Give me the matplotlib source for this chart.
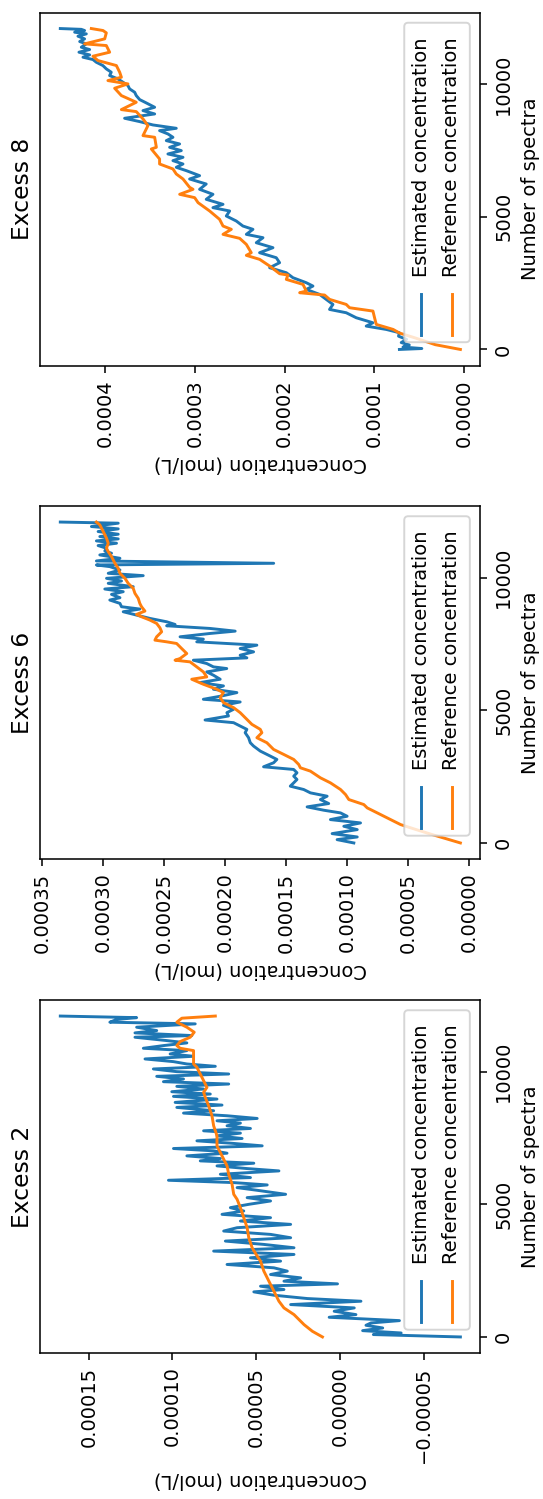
import numpy as np
import matplotlib
matplotlib.use("Agg")
import matplotlib.pyplot as plt
from matplotlib.patches import FancyBboxPatch
from matplotlib.lines import Line2D
from matplotlib.ticker import MultipleLocator

# concentrations below are in units of 1e-5 mol/L, spectra index on the other axis

######## Excess 8 ########
e8_est_s = [0, 35, 90, 170, 260, 380, 500, 630, 755, 881, 1006, 1195, 1384, 1509, 1698, 1887, 2076, 2264,
            2390, 2516, 2705, 2893, 3082, 3271, 3459, 3648, 3837, 4025, 4214, 4340, 4529, 4654, 4843, 5032,
            5221, 5347, 5472, 5661, 5850, 6038, 6238, 6427, 6553, 6742, 6868, 6993, 7119, 7245, 7371, 7497,
            7622, 7748, 7874, 8000, 8126, 8251, 8339, 8465, 8591, 8717, 8880, 9006, 9132, 9295, 9421, 9572,
            9698, 9824, 9950, 10075, 10201, 10327, 10453, 10579, 10704, 10830, 10931, 11019, 11107, 11208,
            11308, 11396, 11522, 11610, 11711, 11811, 11899, 11962, 12025, 12070, 12100]
e8_est_c = [7.2, 4.7, 6.8, 6.1, 7.0, 6.4, 7.3, 7.2, 8.67, 10.90, 10.15, 12.01, 13.13, 14.99, 14.61, 15.36,
            16.10, 17.58, 16.84, 17.58, 19.07, 19.81, 21.67, 20.56, 20.93, 22.79, 21.30, 23.16, 22.41, 24.27,
            23.53, 24.65, 25.39, 26.50, 26.13, 27.99, 26.87, 28.74, 27.99, 29.48, 28.74, 30.59, 29.48, 30.96,
            32.08, 31.33, 32.45, 31.33, 33.01, 31.52, 32.82, 31.71, 33.19, 32.45, 33.01, 33.94, 32.08, 34.68,
            36.16, 37.84, 34.49, 35.79, 34.49, 35.42, 36.16, 36.54, 36.72, 37.28, 37.47, 38.02, 38.58, 39.51,
            39.33, 39.88, 40.26, 41.00, 41.37, 42.48, 41.74, 42.93, 41.74, 42.67, 42.11, 42.85, 42.30, 43.04,
            42.11, 43.41, 42.30, 42.67, 45.01]
e8_ref_s = [0, 180, 430, 620, 755, 944, 1195, 1447, 1573, 1698, 1887, 2051, 2139, 2202, 2453, 2642, 2805,
            2856, 3145, 3397, 3548, 3648, 3963, 4189, 4340, 4529, 4654, 4906, 5221, 5535, 5724, 5850, 6038,
            6112, 6427, 6616, 6805, 6993, 7182, 7559, 7622, 8000, 8063, 8440, 8692, 8968, 9044, 9321, 9572,
            9849, 10013, 10138, 10264, 10453, 10705, 10893, 11057, 11208, 11459, 11522, 11711, 11938, 12026,
            12100]
e8_ref_c = [0.4, 3.2, 5.4, 7.2, 7.9, 9.78, 9.97, 10.15, 12.76, 13.13, 14.98, 15.54, 18.32, 17.58, 17.95,
            19.81, 19.63, 20.56, 21.67, 22.78, 24.27, 23.72, 24.27, 25.01, 26.87, 25.94, 26.87, 27.25, 28.36,
            29.65, 30.03, 31.70, 30.21, 30.59, 31.33, 32.08, 32.45, 33.94, 33.94, 34.86, 34.30, 34.49, 35.79,
            35.24, 35.79, 36.54, 38.20, 36.54, 38.20, 38.95, 37.47, 39.70, 38.20, 38.39, 38.76, 40.81, 41.37,
            39.51, 39.88, 42.30, 40.06, 39.88, 40.25, 41.55]

######## Excess 6 ########
e6_est_s = [0, 125, 226, 352, 503, 629, 755, 881, 1007, 1133, 1234, 1360, 1486, 1637, 1763, 1889, 2015, 2141,
            2267, 2393, 2519, 2645, 2771, 2872, 3023, 3149, 3275, 3464, 3653, 3779, 3968, 4157, 4283, 4409,
            4535, 4636, 4787, 4913, 5039, 5190, 5316, 5417, 5543, 5669, 5795, 5921, 6047, 6173, 6324, 6450,
            6576, 6639, 6765, 6891, 6979, 7080, 7206, 7332, 7458, 7584, 7685, 7773, 7899, 7987, 8088, 8189,
            8239, 8340, 8466, 8592, 8718, 8819, 8907, 9033, 9159, 9247, 9373, 9474, 9575, 9663, 9789, 9877,
            9978, 10079, 10167, 10293, 10419, 10482, 10545, 10633, 10734, 10860, 10923, 11011, 11112, 11213,
            11301, 11389, 11465, 11553, 11641, 11742, 11843, 11931, 12057, 12100]
e6_est_c = [9.44, 10.81, 9.16, 11.22, 9.16, 10.26, 8.89, 11.36, 9.99, 10.53, 11.90, 13.27, 11.50, 12.18,
            11.63, 13.00, 13.55, 14.65, 14.37, 14.10, 14.37, 14.10, 14.37, 16.84, 16.02, 15.75, 16.29, 17.11,
            17.66, 17.93, 18.07, 18.35, 18.21, 18.76, 19.30, 21.64, 19.72, 19.85, 19.30, 20.13, 18.76, 21.78,
            20.26, 19.03, 20.95, 20.13, 22.05, 20.40, 20.95, 21.50, 19.86, 20.95, 21.50, 22.60, 18.21, 18.76,
            17.66, 18.76, 17.39, 22.32, 21.78, 23.69, 21.23, 19.17, 21.23, 24.79, 24.10, 24.79, 26.16, 27.26,
            28.35, 26.99, 28.49, 28.62, 29.45, 28.62, 29.31, 28.35, 29.86, 27.53, 29.58, 28.49, 29.72, 26.71,
            29.58, 28.62, 29.45, 30.55, 16.01, 30.55, 28.62, 30.27, 29.31, 29.86, 29.72, 30.41, 28.90, 30.55,
            28.76, 30.27, 28.76, 30.41, 28.76, 30.96, 28.76, 33.51]
e6_ref_s = [0, 300, 500, 692, 818, 1007, 1196, 1322, 1448, 1637, 1826, 2015, 2267, 2456, 2708, 2834, 2960,
            3149, 3338, 3527, 3779, 3968, 4157, 4283, 4472, 4724, 4913, 5102, 5291, 5480, 5669, 5795, 5984,
            6173, 6261, 6450, 6639, 6828, 6891, 6954, 7143, 7332, 7521, 7584, 7647, 7773, 7962, 8113, 8277,
            8403, 8529, 8617, 8743, 8907, 9033, 9222, 9411, 9600, 9789, 9978, 10167, 10356, 10545, 10797,
            10986, 11112, 11301, 11490, 11742, 11994, 12100]
e6_ref_c = [0.7, 2.9, 4.3, 5.60, 6.15, 6.97, 7.79, 8.34, 8.62, 9.85, 10.12, 10.53, 11.36, 12.18, 13.00,
            13.82, 13.96, 14.37, 15.19, 16.02, 16.57, 17.39, 16.98, 17.11, 17.80, 18.35, 18.76, 19.30, 20.13,
            20.40, 20.13, 20.68, 21.78, 22.73, 21.50, 21.78, 22.32, 22.87, 24.10, 23.69, 23.14, 23.56, 23.97,
            24.79, 25.75, 25.61, 25.20, 25.34, 25.61, 26.16, 26.85, 27.26, 26.57, 26.85, 26.99, 27.12, 27.39,
            27.53, 27.94, 28.21, 28.62, 28.76, 29.03, 29.31, 29.58, 29.72, 29.58, 29.72, 29.99, 30.27, 30.55]

######## Excess 2 ########
e2_est_s = [0, 90, 150, 238, 339, 440, 528, 616, 742, 843, 969, 1095, 1221, 1347, 1448, 1574, 1700, 1788,
            1914, 2002, 2103, 2229, 2355, 2481, 2607, 2733, 2859, 2985, 3111, 3237, 3363, 3489, 3615, 3741,
            3867, 3993, 4119, 4245, 4371, 4497, 4623, 4749, 4875, 5001, 5127, 5253, 5379, 5530, 5631, 5732,
            5820, 5908, 6009, 6135, 6261, 6349, 6450, 6551, 6639, 6727, 6828, 6929, 7017, 7105, 7206, 7307,
            7395, 7483, 7584, 7685, 7773, 7861, 7962, 8063, 8151, 8239, 8340, 8441, 8529, 8655, 8743, 8844,
            8970, 9071, 9159, 9247, 9348, 9449, 9537, 9625, 9726, 9827, 9915, 10003, 10104, 10205, 10293,
            10381, 10482, 10583, 10671, 10797, 10885, 10986, 11087, 11175, 11301, 11364, 11465, 11553, 11679,
            11805, 11868, 11969, 12040, 12100]
e2_est_c = [-7.2, -2.0, -3.66, -1.36, -2.56, -1.56, -1.86, -3.56, 0.64, -0.96, 0.34, -0.86, 2.94, -1.26,
            1.94, 3.94, 5.14, 3.34, 4.74, 0.14, 3.34, 2.34, 4.14, 3.14, 3.94, 6.74, 3.54, 5.34, 2.74, 7.54,
            2.74, 4.54, 6.84, 2.94, 4.14, 6.94, 6.14, 2.94, 5.94, 4.14, 7.04, 5.74, 6.54, 5.44, 4.14, 5.54,
            3.24, 4.94, 6.14, 4.34, 6.34, 10.24, 5.34, 7.14, 3.64, 5.54, 7.34, 5.14, 8.34, 7.14, 9.14, 6.74,
            7.54, 9.94, 4.64, 6.54, 8.54, 5.84, 7.34, 5.94, 8.14, 5.34, 6.74, 5.94, 7.34, 4.94, 6.74, 9.34,
            7.54, 9.74, 7.04, 9.84, 7.34, 9.94, 7.74, 10.04, 8.14, 9.74, 6.64, 10.54, 9.34, 10.94, 6.64, 9.74,
            11.14, 7.44, 9.14, 9.94, 11.64, 8.74, 10.14, 9.14, 11.74, 10.54, 9.14, 10.34, 12.24, 8.84, 12.24,
            10.94, 12.14, 8.64, 13.74, 13.34, 12.14, 16.70]
e2_ref_s = [0, 213, 465, 843, 1095, 1347, 1725, 2103, 2481, 2859, 3048, 3363, 3741, 4119, 4497, 4875, 5190,
            5379, 5757, 6135, 6450, 6828, 7206, 7584, 7962, 8340, 8718, 9033, 9222, 9411, 9663, 9915, 10167,
            10293, 10608, 10797, 10885, 10986, 11137, 11301, 11490, 11679, 11868, 12019, 12100]
e2_ref_c = [1.04, 1.64, 2.14, 2.74, 3.34, 3.64, 3.94, 4.24, 4.54, 4.74, 4.94, 5.24, 5.44, 5.54, 5.74, 5.94,
            6.14, 6.34, 6.44, 6.64, 6.74, 7.04, 7.34, 7.34, 7.54, 7.64, 7.84, 8.04, 8.14, 7.94, 8.14, 8.34,
            8.54, 8.74, 8.74, 8.74, 9.54, 9.74, 9.54, 8.94, 8.70, 9.14, 9.74, 9.44, 7.44]

titles = ["Excess 8", "Excess 6", "Excess 2"]
est_s = [e8_est_s, e6_est_s, e2_est_s]
est_c = [e8_est_c, e6_est_c, e2_est_c]
ref_s = [e8_ref_s, e6_ref_s, e2_ref_s]
ref_c = [e8_ref_c, e6_ref_c, e2_ref_c]
conc_step = [1e-4, 5e-5, 5e-5]

W, H, DPI = 543, 1499, 140
fig = plt.figure(figsize=(W / DPI, H / DPI), dpi=DPI)

ax_left, ax_w, ax_h = 40.3, 440.1, 353
ax_tops = [12.5, 506, 1000]

for i in range(3):
    top = ax_tops[i]
    ax = fig.add_axes([ax_left / W, (H - top - ax_h) / H, ax_w / W, ax_h / H])
    ax.plot(np.array(est_c[i]) * 1e-5, est_s[i], color='C0')
    ax.plot(np.array(ref_c[i]) * 1e-5, ref_s[i], color='C1')
    ax.invert_xaxis()
    ax.xaxis.set_major_locator(MultipleLocator(conc_step[i]))
    ax.yaxis.set_major_locator(MultipleLocator(5000))
    ax.yaxis.tick_right()
    ax.yaxis.set_label_position('right')
    ax.tick_params(axis='x', labelrotation=90)
    ax.tick_params(axis='y', labelrotation=90)
    ax.set_ylabel('Number of spectra')
    ax.set_xlabel('Concentration (mol/L)', rotation=180)
    plt.setp(ax.get_yticklabels(), va='center', ha='left')

    # title sits on the left, turned like the rest of the chart
    ax.annotate(titles[i], xy=(0, 0.5), xycoords='axes fraction', xytext=(-6, 0),
                textcoords='offset points', rotation=90, rotation_mode='anchor',
                ha='center', va='baseline', fontsize=12)

    # legend, drawn by hand because it is turned too
    box = FancyBboxPatch((0.827, 0.066), 0.149, 0.905,
                         boxstyle='round,pad=0,rounding_size=0.009',
                         mutation_aspect=ax_w / ax_h, transform=ax.transAxes,
                         facecolor='white', edgecolor='0.8', lw=1.0, alpha=0.8, zorder=5)
    ax.add_patch(box)
    for col, lab, colr in [(0.866, 'Estimated concentration', 'C0'),
                           (0.935, 'Reference concentration', 'C1')]:
        ax.add_artist(Line2D([col, col], [0.087, 0.203], transform=ax.transAxes,
                             color=colr, lw=1.5, zorder=6))
        ax.text(col, 0.251, lab, rotation=90, ha='center', va='bottom',
                transform=ax.transAxes, zorder=6)

fig.savefig('out.png', dpi=DPI)
